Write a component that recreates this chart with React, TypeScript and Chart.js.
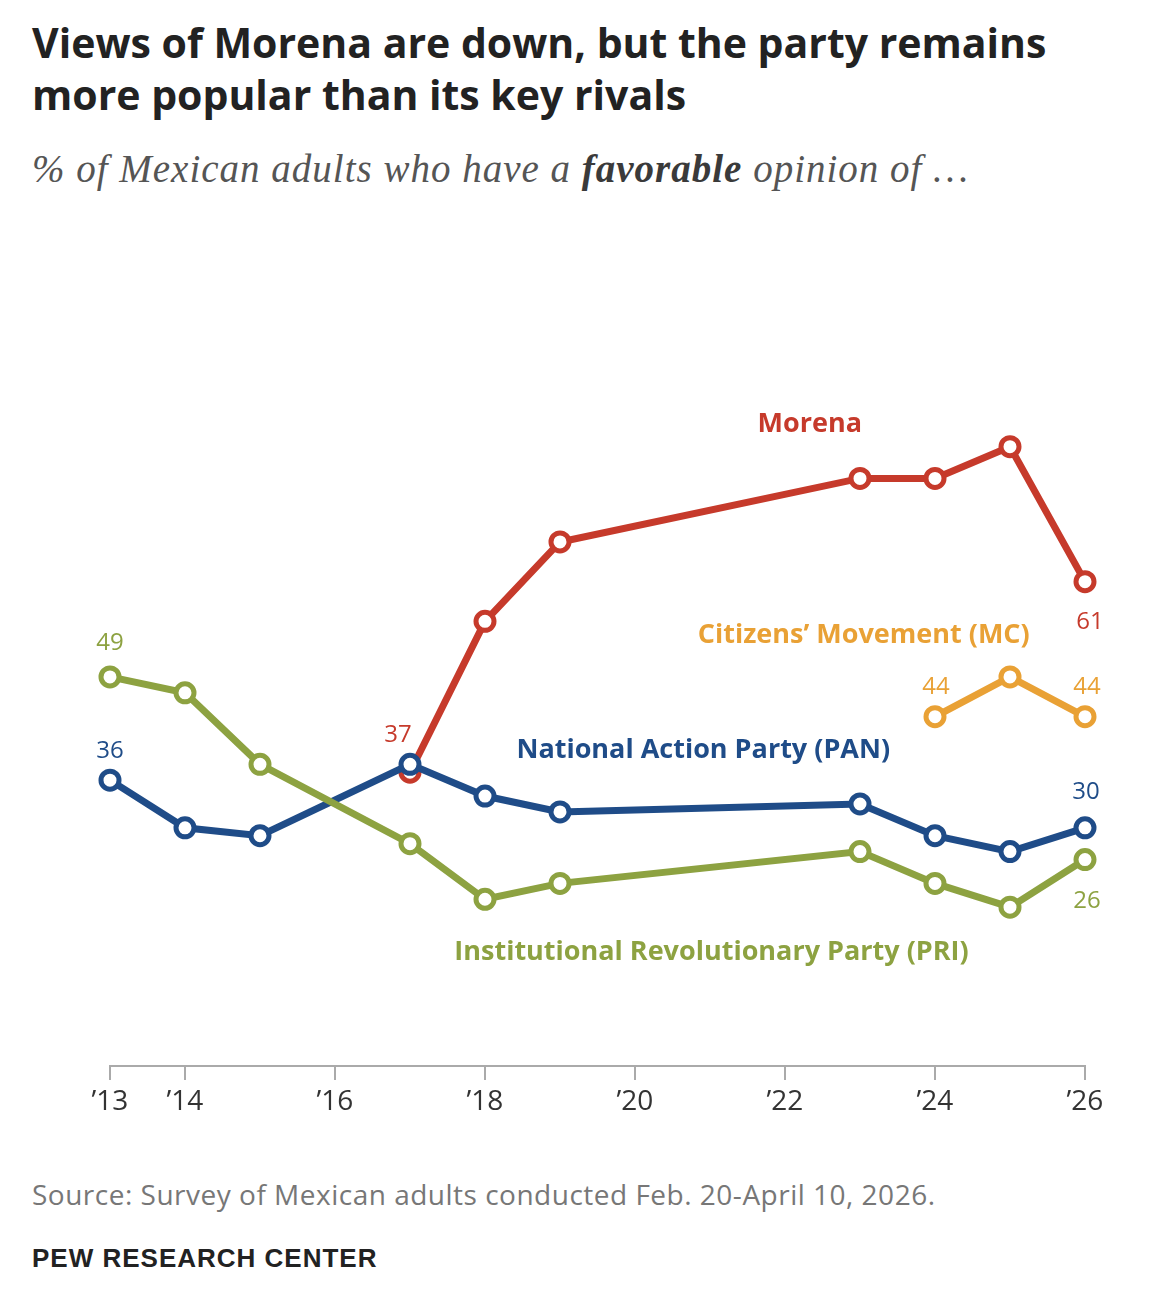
import React, { useEffect, useRef } from "react";
import { Chart, registerables } from "chart.js";

Chart.register(...registerables);

// ---- Data ----
const allYears = [2013, 2014, 2015, 2017, 2018, 2019, 2023, 2024, 2025, 2026];
const morenaYears = [2017, 2018, 2019, 2023, 2024, 2025, 2026];
const mcYears = [2024, 2025, 2026];
const morenaValues = [37, 56, 66, 74, 74, 78, 61];
const panValues = [36, 30, 29, 38, 34, 32, 33, 29, 27, 30];
const priValues = [49, 47, 38, 28, 21, 23, 27, 23, 20, 26];
const mcValues = [44, 49, 44];
const tickYears = [2013, 2014, 2016, 2018, 2020, 2022, 2024, 2026];
const tickLabels = ["\u201913", "\u201914", "\u201916", "\u201918", "\u201920", "\u201922", "\u201924", "\u201926"];
const seriesNames = ["Morena", "Citizens\u2019 Movement (MC)", "National Action Party (PAN)", "Institutional Revolutionary Party (PRI)"];

// ---- Styles ----
const RED = "#c63a2b";
const BLUE = "#1f4c88";
const GREEN = "#8da241";
const ORANGE = "#e9a135";

const LABEL_FONT = "'Open Sans', sans-serif";

// series name labels anchored in data coordinates (year, value)
const nameAnchors = [
  { ds: 0, x: 2022.33, y: 81.0, color: RED },
  { ds: 1, x: 2023.05, y: 54.5, color: ORANGE },
  { ds: 2, x: 2020.91, y: 40.05, color: BLUE },
  { ds: 3, x: 2021.02, y: 14.55, color: GREEN },
];

// value labels: dataset index, point index, pixel offset of label center
const valueLabelDefs = [
  { ds: 3, i: 0, dx: 0, dy: -36, color: GREEN },
  { ds: 2, i: 0, dx: 0, dy: -31, color: BLUE },
  { ds: 0, i: 0, dx: -12, dy: -39, color: RED },
  { ds: 0, i: 6, dx: 5, dy: 39, color: RED },
  { ds: 1, i: 0, dx: 1, dy: -31, color: ORANGE },
  { ds: 1, i: 2, dx: 2, dy: -31, color: ORANGE },
  { ds: 2, i: 9, dx: 1, dy: -37, color: BLUE },
  { ds: 3, i: 9, dx: 2, dy: 40, color: GREEN },
];

const toPoints = (xs: number[], ys: number[]) => xs.map((x, i) => ({ x, y: ys[i] }));

const annotationPlugin = {
  id: "pewAnnotations",
  afterDatasetsDraw(chart: any) {
    const { ctx } = chart;
    const xs = chart.scales.x;
    const ys = chart.scales.y;
    ctx.save();
    ctx.textAlign = "center";
    ctx.textBaseline = "alphabetic";
    // series names
    ctx.font = `700 27px ${LABEL_FONT}`;
    for (const a of nameAnchors) {
      const px = xs.getPixelForValue(a.x);
      const py = ys.getPixelForValue(a.y);
      ctx.fillStyle = a.color;
      ctx.fillText(seriesNames[a.ds], px, py + 0.357 * 27);
    }
    // value labels
    ctx.font = `400 24px ${LABEL_FONT}`;
    for (const v of valueLabelDefs) {
      const pt = chart.data.datasets[v.ds].data[v.i];
      const px = xs.getPixelForValue(pt.x) + v.dx;
      const py = ys.getPixelForValue(pt.y) + v.dy;
      ctx.fillStyle = v.color;
      ctx.fillText(String(pt.y), px, py + 0.357 * 24);
    }
    ctx.restore();
  },
};

function lineDataset(label: string, data: any[], color: string, order: number) {
  return {
    label,
    data,
    borderColor: color,
    backgroundColor: color,
    borderWidth: 7,
    pointRadius: 9,
    pointBorderWidth: 5,
    pointBackgroundColor: "#ffffff",
    pointBorderColor: color,
    pointHoverRadius: 9,
    tension: 0,
    order,
    clip: false as any,
    fill: false,
  };
}

function PewChart() {
  const ref = useRef<HTMLCanvasElement | null>(null);
  useEffect(() => {
    if (!ref.current) return;
    const chart = new Chart(ref.current, {
      type: "line",
      data: {
        datasets: [
          lineDataset("Morena", toPoints(morenaYears, morenaValues), RED, 2),
          lineDataset("MC", toPoints(mcYears, mcValues), ORANGE, 3),
          lineDataset("PAN", toPoints(allYears, panValues), BLUE, 1),
          lineDataset("PRI", toPoints(allYears, priValues), GREEN, 0),
        ] as any,
      },
      options: {
        animation: false,
        responsive: false,
        maintainAspectRatio: false,
        events: [],
        layout: { padding: { top: 42, left: 110, right: 67, bottom: 0 } },
        plugins: { legend: { display: false }, tooltip: { enabled: false } },
        scales: {
          x: {
            type: "linear",
            min: 2013,
            max: 2026,
            afterBuildTicks: (s: any) => {
              s.ticks = tickYears.map((v) => ({ value: v }));
            },
            afterFit: (s: any) => {
              s.height = 64;
            },
            ticks: {
              autoSkip: false,
              maxRotation: 0,
              padding: 5,
              color: "#333333",
              font: { family: LABEL_FONT, size: 28 },
              callback: (_v: any, i: number) => tickLabels[i],
            },
            grid: {
              display: true,
              drawOnChartArea: false,
              drawTicks: true,
              tickLength: 14,
              color: "#aaaaaa",
              lineWidth: 2,
            },
            border: { display: true, color: "#aaaaaa", width: 2 },
          },
          y: { display: false, min: 0, max: 100 },
        },
      } as any,
      plugins: [annotationPlugin],
    });
    return () => chart.destroy();
  }, []);
  return (
    <canvas
      ref={ref}
      width={1152}
      height={900}
      style={{ position: "absolute", left: 0, top: 230, width: 1152, height: 900 }}
    />
  );
}

export default function App() {
  return (
    <div style={{ position: "absolute", left: 0, top: 0, width: 1152, height: 1293, background: "#fff", overflow: "hidden" }}>
      <div
        style={{
          position: "absolute",
          left: 32,
          top: 16,
          width: 1110,
          fontFamily: "'Open Sans', sans-serif",
          fontWeight: 700,
          fontSize: 41,
          lineHeight: "52px",
          color: "#222222",
          whiteSpace: "nowrap",
        }}
      >
        Views of Morena are down, but the party remains
        <br />
        more popular than its key rivals
      </div>
      <div
        style={{
          position: "absolute",
          left: 32,
          top: 149,
          fontFamily: "'Liberation Serif', serif",
          fontStyle: "italic",
          fontSize: 39,
          lineHeight: "39px",
          letterSpacing: "1px",
          color: "#555555",
          whiteSpace: "nowrap",
        }}
      >
        % of Mexican adults who have a <b style={{ color: "#3a3a3a" }}>favorable</b> opinion of …
      </div>
      <PewChart />
      <div
        style={{
          position: "absolute",
          left: 32,
          top: 1180,
          fontFamily: "'Open Sans', sans-serif",
          fontSize: 28,
          lineHeight: "28px",
          letterSpacing: "0.5px",
          color: "#777777",
          whiteSpace: "nowrap",
        }}
      >
        Source: Survey of Mexican adults conducted Feb. 20-April 10, 2026.
      </div>
      <div
        style={{
          position: "absolute",
          left: 32,
          top: 1245,
          fontFamily: "'Liberation Sans', sans-serif",
          fontWeight: 700,
          fontSize: 26,
          lineHeight: "26px",
          letterSpacing: "1px",
          color: "#222222",
          whiteSpace: "nowrap",
        }}
      >
        PEW RESEARCH CENTER
      </div>
    </div>
  );
}
